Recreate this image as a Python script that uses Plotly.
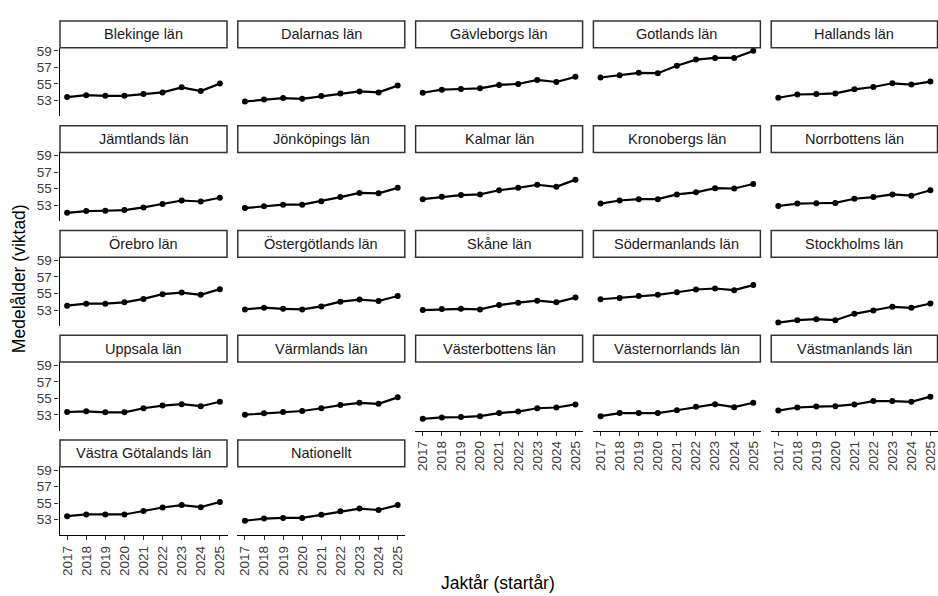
"""
    Medelålder per län, facetterad linjegraf
"""

import plotly.graph_objs as go

YEARS = [2017, 2018, 2019, 2020, 2021, 2022, 2023, 2024, 2025]

LAN = [
    "Blekinge län", "Dalarnas län", "Gävleborgs län", "Gotlands län", "Hallands län",
    "Jämtlands län", "Jönköpings län", "Kalmar län", "Kronobergs län", "Norrbottens län",
    "Örebro län", "Östergötlands län", "Skåne län", "Södermanlands län", "Stockholms län",
    "Uppsala län", "Värmlands län", "Västerbottens län", "Västernorrlands län",
    "Västmanlands län", "Västra Götalands län", "Nationellt",
]

blekinge = [53.41, 53.65, 53.57, 53.57, 53.78, 53.98, 54.59, 54.14, 55.04]
dalarna = [52.88, 53.12, 53.29, 53.20, 53.53, 53.86, 54.10, 53.98, 54.80]
gavleborg = [53.94, 54.31, 54.39, 54.47, 54.88, 55.00, 55.49, 55.24, 55.86]
gotland = [55.78, 56.06, 56.35, 56.30, 57.21, 57.94, 58.14, 58.14, 59.00]
halland = [53.33, 53.73, 53.78, 53.86, 54.35, 54.63, 55.08, 54.92, 55.29]
jamtland = [52.09, 52.30, 52.34, 52.42, 52.75, 53.17, 53.58, 53.46, 53.91]
jonkoping = [52.67, 52.88, 53.08, 53.08, 53.50, 53.99, 54.49, 54.45, 55.11]
kalmar = [53.74, 54.03, 54.24, 54.32, 54.82, 55.11, 55.48, 55.23, 56.10]
kronoberg = [53.21, 53.58, 53.74, 53.74, 54.32, 54.57, 55.07, 55.03, 55.57]
norrbotten = [52.92, 53.21, 53.25, 53.29, 53.79, 53.99, 54.32, 54.16, 54.82]
orebro = [53.53, 53.78, 53.78, 53.94, 54.35, 54.92, 55.12, 54.84, 55.53]
ostergotland = [53.08, 53.29, 53.16, 53.08, 53.45, 54.02, 54.27, 54.10, 54.71]
skane = [53.00, 53.12, 53.16, 53.08, 53.61, 53.90, 54.14, 53.94, 54.51]
sodermanland = [54.31, 54.47, 54.71, 54.84, 55.16, 55.49, 55.61, 55.41, 56.02]
stockholm = [51.49, 51.78, 51.90, 51.78, 52.55, 52.95, 53.40, 53.28, 53.80]
uppsala = [53.35, 53.43, 53.31, 53.31, 53.80, 54.13, 54.30, 54.05, 54.59]
varmland = [53.02, 53.19, 53.35, 53.47, 53.80, 54.18, 54.46, 54.34, 55.12]
vasterbotten = [52.53, 52.69, 52.73, 52.85, 53.22, 53.40, 53.80, 53.89, 54.26]
vasternorrland = [52.85, 53.22, 53.22, 53.22, 53.56, 53.97, 54.30, 53.93, 54.46]
vastmanland = [53.52, 53.89, 54.01, 54.05, 54.26, 54.67, 54.67, 54.58, 55.20]
vastra_gotaland = [53.42, 53.63, 53.63, 53.63, 54.05, 54.47, 54.76, 54.51, 55.14]
nationellt = [52.87, 53.13, 53.21, 53.21, 53.59, 54.01, 54.34, 54.17, 54.76]

VALUES = [
    blekinge, dalarna, gavleborg, gotland, halland,
    jamtland, jonkoping, kalmar, kronoberg, norrbotten,
    orebro, ostergotland, skane, sodermanland, stockholm,
    uppsala, varmland, vasterbotten, vasternorrland,
    vastmanland, vastra_gotaland, nationellt,
]

Y_TICKS = [53, 55, 57, 59]

W, H = 938, 596
NCOL = 5
FONT = "Liberation Sans, Arial, sans-serif"


def px_x(p):
    return p / W


def px_y(p):
    return 1 - p / H


def facet_plot():
    """
        Builds the facetted figure, one panel per län
    """
    fig = go.Figure()
    n = len(LAN)

    for k, (name, vals) in enumerate(zip(LAN, VALUES)):
        row, col = divmod(k, NCOL)
        left = 59.5 + col * 177.8
        right = min(left + 168, W)
        strip_top = 17 + row * 105.5
        strip_bot = 44 + row * 105.5
        bottom = 113 + row * 105.5

        # bottom-most panel in each column gets the x labels
        last_in_col = k + NCOL >= n
        first_col = col == 0

        sfx = "" if k == 0 else str(k + 1)
        fig.add_trace(go.Scatter(
            x=YEARS, y=vals, mode="lines+markers",
            line={"color": "black", "width": 2.2},
            marker={"color": "black", "size": 6},
            xaxis="x" + sfx, yaxis="y" + sfx, showlegend=False,
            hovertemplate=name + "<br>%{x}: %{y:.2f}<extra></extra>",
        ))

        fig.layout["xaxis" + sfx] = dict(
            domain=[px_x(left), px_x(right)], anchor="y" + sfx,
            range=[2016.6, 2025.4], tickmode="array", tickvals=YEARS,
            showticklabels=last_in_col, ticks="outside" if last_in_col else "",
            ticklen=4, tickcolor="#333333", tickwidth=1, tickangle=-90,
            tickfont={"size": 13.5, "color": "#3A3A3A", "family": FONT},
            showline=last_in_col, linecolor="black", linewidth=1.1,
            showgrid=False, zeroline=False,
        )
        fig.layout["yaxis" + sfx] = dict(
            domain=[px_y(bottom), px_y(strip_bot)], anchor="x" + sfx,
            range=[51.1, 59.38], tickmode="array", tickvals=Y_TICKS,
            showticklabels=first_col, ticks="outside" if first_col else "",
            ticklen=4, tickcolor="#333333", tickwidth=1,
            tickfont={"size": 13.5, "color": "#3A3A3A", "family": FONT},
            showline=first_col, linecolor="black", linewidth=1.1,
            showgrid=False, zeroline=False,
        )

        # strip
        fig.add_shape(type="rect", xref="paper", yref="paper",
                      x0=px_x(left + 0.5), x1=px_x(right - 0.5),
                      y0=px_y(strip_bot), y1=px_y(strip_top),
                      line={"color": "#333333", "width": 1.5},
                      fillcolor="white")
        fig.add_annotation(x=px_x((left + right) / 2),
                           y=px_y((strip_top + strip_bot) / 2),
                           xref="paper", yref="paper", text=name,
                           showarrow=False, xanchor="center", yanchor="middle",
                           font={"size": 14.5, "color": "#1A1A1A", "family": FONT})

    fig.add_annotation(x=px_x(498), y=px_y(583), xref="paper", yref="paper",
                       text="Jaktår (startår)", showarrow=False,
                       xanchor="center", yanchor="middle",
                       font={"size": 17.5, "color": "black", "family": FONT})
    fig.add_annotation(x=px_x(19), y=px_y(277), xref="paper", yref="paper",
                       text="Medelålder (viktad)", showarrow=False, textangle=-90,
                       xanchor="center", yanchor="middle",
                       font={"size": 17.5, "color": "black", "family": FONT})

    fig.update_layout(
        width=W, height=H,
        margin={"l": 0, "r": 0, "t": 0, "b": 0, "pad": 0},
        paper_bgcolor="white", plot_bgcolor="white",
        font={"family": FONT},
    )
    return fig


fig = facet_plot()
# drop the default page margin so the figure sits at the window's corner
fig.write_html("out.html", config={"displayModeBar": False},
               post_script="document.body.style.margin='0';"
                           "document.body.style.overflow='hidden';")
